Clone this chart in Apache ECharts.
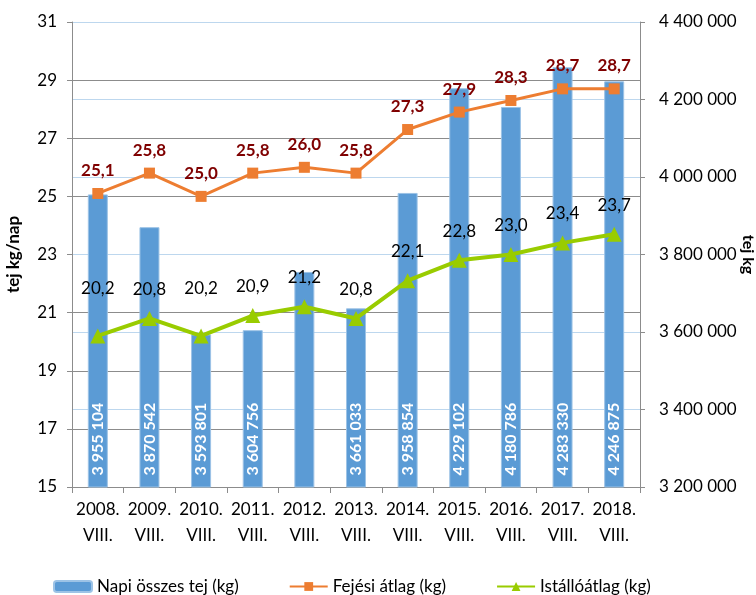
<!DOCTYPE html>
<html>
<head>
<meta charset="utf-8">
<script src="https://cdn.jsdelivr.net/npm/echarts@6/dist/echarts.min.js"></script>
<style>
  html, body { margin: 0; padding: 0; background: #fff; }
  #chart { width: 756px; height: 595px; }
</style>
</head>
<body>
<div id="chart"></div>
<script>
// kategóriák és adatsorok
var years = ['2008.\nVIII.', '2009.\nVIII.', '2010.\nVIII.', '2011.\nVIII.', '2012.\nVIII.', '2013.\nVIII.',
  '2014.\nVIII.', '2015.\nVIII.', '2016.\nVIII.', '2017.\nVIII.', '2018.\nVIII.'];
var napiOsszes = [3955104, 3870542, 3593801, 3604756, 3755000, 3661033, 3958854, 4229102, 4180786, 4283330, 4246875];
var fejesiAtlag = [25.1, 25.8, 25.0, 25.8, 26.0, 25.8, 27.3, 27.9, 28.3, 28.7, 28.7];
var istalloAtlag = [20.2, 20.8, 20.2, 20.9, 21.2, 20.8, 22.1, 22.8, 23.0, 23.4, 23.7];

var FONT = 'Lato, "Open Sans", sans-serif';

function spaced(n) {
  return String(n).replace(/\B(?=(\d{3})+(?!\d))/g, ' ');
}
function comma(v) {
  return v.toFixed(1).replace('.', ',');
}

var chart = echarts.init(document.getElementById('chart'));

// 2012-es oszlopon nincs felirat
var barData = napiOsszes.map(function (v, i) {
  return i === 4 ? { value: v, label: { show: false } } : v;
});
// két címke magasabban ül
var greenData = istalloAtlag.map(function (v, i) {
  return (i === 0 || i === 2) ? { value: v, label: { distance: 31 } } : v;
});

var option = {
  animation: false,
  textStyle: { fontFamily: FONT },
  grid: { left: 72, right: 116, top: 22, bottom: 108, outerBoundsMode: 'none', containLabel: false },
  legend: {
    bottom: -5,
    left: 48,
    itemGap: 50,
    itemWidth: 38,
    itemHeight: 11,
    textStyle: { fontSize: 17, color: '#000', fontFamily: FONT },
    data: ['Napi összes tej (kg)', 'Fejési átlag (kg)', 'Istállóátlag (kg)']
  },
  xAxis: {
    type: 'category',
    data: years,
    axisLine: { lineStyle: { color: '#8c8c8c' } },
    axisTick: { show: true, interval: 0, length: 6, lineStyle: { color: '#8c8c8c' } },
    axisLabel: { interval: 0, color: '#000', fontSize: 17, lineHeight: 26, margin: 10, fontFamily: FONT }
  },
  yAxis: [{
    type: 'value',
    min: 15, max: 31, interval: 2,
    name: 'tej kg/nap',
    nameLocation: 'middle',
    nameRotate: 90,
    nameGap: 50,
    nameMoveOverlap: false,
    nameTextStyle: { fontWeight: 'bold', fontSize: 17, color: '#000', fontFamily: FONT },
    axisLine: { show: true, lineStyle: { color: '#8c8c8c' } },
    axisTick: { show: true, length: 5, lineStyle: { color: '#8c8c8c' } },
    axisLabel: { color: '#000', fontSize: 17, margin: 15, fontFamily: FONT },
    splitLine: { lineStyle: { color: '#8c8c8c' } }
  }, {
    type: 'value',
    min: 3200000, max: 4400000, interval: 200000,
    name: 'tej kg',
    nameLocation: 'middle',
    nameRotate: -90,
    nameGap: 100,
    nameMoveOverlap: false,
    nameTextStyle: { fontWeight: 'bold', fontSize: 16, color: '#000', fontFamily: FONT },
    axisLine: { show: true, lineStyle: { color: '#8c8c8c' } },
    axisTick: { show: true, length: 5, lineStyle: { color: '#8c8c8c' } },
    axisLabel: { color: '#000', fontSize: 17, margin: 19, fontFamily: FONT, formatter: spaced },
    splitLine: { lineStyle: { color: '#BDD7EE' } }
  }],
  series: [{
    name: 'Napi összes tej (kg)',
    type: 'bar',
    yAxisIndex: 1,
    barWidth: 20,
    data: barData,
    itemStyle: { color: '#5B9BD5', borderColor: '#9DC3E6', borderWidth: 1 },
    label: {
      show: true,
      position: 'insideBottom',
      distance: 12,
      rotate: 90,
      align: 'left',
      verticalAlign: 'middle',
      color: '#fff',
      fontWeight: 'bold',
      fontSize: 16,
      fontFamily: FONT,
      formatter: function (p) { return spaced(p.value); }
    }
  }, {
    name: 'Fejési átlag (kg)',
    type: 'line',
    yAxisIndex: 0,
    data: fejesiAtlag,
    symbol: 'rect',
    symbolSize: 11,
    lineStyle: { color: '#ED7D31', width: 3 },
    itemStyle: { color: '#ED7D31' },
    label: {
      show: true,
      position: 'top',
      distance: 9,
      color: '#7F0000',
      fontWeight: 'bold',
      fontSize: 17,
      fontFamily: FONT,
      formatter: function (p) { return comma(p.value); }
    },
    z: 3
  }, {
    name: 'Istállóátlag (kg)',
    type: 'line',
    yAxisIndex: 0,
    data: greenData,
    symbol: 'triangle',
    symbolSize: 15,
    lineStyle: { color: '#99CC00', width: 4 },
    itemStyle: { color: '#99CC00' },
    label: {
      show: true,
      position: 'top',
      distance: 13,
      color: '#000',
      fontSize: 17,
      fontFamily: FONT,
      formatter: function (p) { return comma(p.value); }
    },
    z: 3
  }]
};

chart.setOption(option);
</script>
</body>
</html>
